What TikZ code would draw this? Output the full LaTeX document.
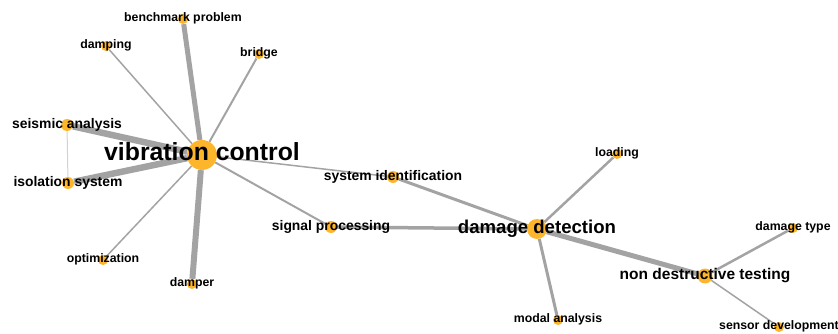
\documentclass[tikz,border=0pt]{standalone}
\usepackage{fontspec}
\setmainfont{Liberation Sans}
\usetikzlibrary{backgrounds}
\definecolor{kworange}{RGB}{253,181,43}
\definecolor{linkgray}{RGB}{163,163,163}
\definecolor{linklight}{RGB}{210,210,210}
\tikzset{
  kw/.style={circle, fill=kworange, inner sep=0pt, minimum size=#1},
  kwtext/.style={font=\bfseries\fontsize{#1}{#1}\selectfont, anchor=base, inner sep=0pt, yshift=-0.22*#1pt},
  link/.style={draw=linkgray, line width=#1},
}
\begin{document}
\begin{tikzpicture}[x=1pt, y=-1pt]
\clip (0,0) rectangle (838,334);

% keyword circles
\node (vc) [kw=30pt] at (202,155) {};
\node (bench) [kw=10pt] at (183,19) {};
\node (damping) [kw=10pt] at (106,46) {};
\node (bridge) [kw=10pt] at (259,54) {};
\node (seismic) [kw=12pt] at (67,125) {};
\node (isolation) [kw=12pt] at (68,183) {};
\node (optim) [kw=10pt] at (103,260) {};
\node (damper) [kw=10pt] at (192,284) {};
\node (sysid) [kw=12pt] at (393,177) {};
\node (signal) [kw=12pt] at (331,227) {};
\node (dd) [kw=20pt] at (537,229) {};
\node (loading) [kw=10pt] at (617,154) {};
\node (modal) [kw=10pt] at (558,320) {};
\node (ndt) [kw=15pt] at (705,276) {};
\node (dtype) [kw=10pt] at (793,228) {};
\node (sensor) [kw=10pt] at (779,327) {};

% links
\begin{scope}[on background layer]
\draw [link=5pt] (vc) -- (bench);
\draw [link=1.5pt] (vc) -- (damping);
\draw [link=2pt] (vc) -- (bridge);
\draw [link=6.5pt] (vc) -- (seismic);
\draw [link=6.5pt] (vc) -- (isolation);
\draw [draw=linklight, line width=1pt] (seismic) -- (isolation);
\draw [link=1.5pt] (vc) -- (optim);
\draw [link=6pt] (vc) -- (damper);
\draw [link=1.5pt] (vc) -- (sysid);
\draw [link=2pt] (vc) -- (signal);
\draw [link=3pt] (sysid) -- (dd);
\draw [link=3.5pt] (signal) -- (dd);
\draw [link=2.5pt] (dd) -- (loading);
\draw [link=3pt] (dd) -- (modal);
\draw [link=5pt] (dd) -- (ndt);
\draw [link=2.5pt] (ndt) -- (dtype);
\draw [link=1.5pt] (ndt) -- (sensor);
\end{scope}

% labels
\node (vc-t) [kwtext=24.8] at (vc) {vibration control};
\node (bench-t) [kwtext=12.3] at (bench) {benchmark problem};
\node (damping-t) [kwtext=12.3] at (damping) {damping};
\node (bridge-t) [kwtext=12.3] at (bridge) {bridge};
\node (seismic-t) [kwtext=13.9] at (seismic) {seismic analysis};
\node (isolation-t) [kwtext=13.9] at (isolation) {isolation system};
\node (optim-t) [kwtext=12.3] at (optim) {optimization};
\node (damper-t) [kwtext=12.3] at (damper) {damper};
\node (sysid-t) [kwtext=13.9] at (sysid) {system identification};
\node (signal-t) [kwtext=13.9] at (signal) {signal processing};
\node (dd-t) [kwtext=18.6] at (dd) {damage detection};
\node (loading-t) [kwtext=12.3] at (loading) {loading};
\node (modal-t) [kwtext=12.3] at (modal) {modal analysis};
\node (ndt-t) [kwtext=15.5] at (ndt) {non destructive testing};
\node (dtype-t) [kwtext=12.3] at (dtype) {damage type};
\node (sensor-t) [kwtext=12.3] at (sensor) {sensor development};
\end{tikzpicture}
\end{document}
